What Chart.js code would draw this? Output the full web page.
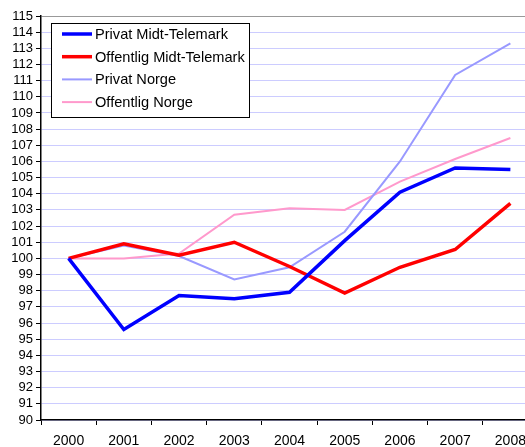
<!DOCTYPE html>
<html>
<head>
<meta charset="utf-8">
<script src="https://cdn.jsdelivr.net/npm/chart.js@4.4.0/dist/chart.umd.min.js"></script>
<style>
  html, body { margin: 0; padding: 0; background: #fff; overflow: hidden; }
  #wrap { width: 540px; height: 447px; }
</style>
</head>
<body>
<div id="wrap"><canvas id="chart" width="540" height="447"></canvas></div>
<script>
// years on the x axis
const years = ['2000', '2001', '2002', '2003', '2004', '2005', '2006', '2007', '2008'];

// index values (2000 = 100)
const privatMidt = [100, 95.6, 97.7, 97.5, 97.9, 101.1, 104.1, 105.6, 105.5];
const offentligMidt = [100, 100.9, 100.2, 101.0, 99.5, 97.85, 99.45, 100.55, 103.4];
const privatNorge = [100, 100.8, 100.15, 98.7, 99.45, 101.65, 106.0, 111.35, 113.3];
const offentligNorge = [100, 100.0, 100.3, 102.7, 103.1, 103.0, 104.75, 106.15, 107.45];

const seriesNames = ['Privat Midt-Telemark', 'Offentlig Midt-Telemark', 'Privat Norge', 'Offentlig Norge'];

const font = "'Liberation Sans', Arial, sans-serif";

// legend box drawn inside the plot, like the original
const boxLegend = {
    id: 'boxLegend',
    afterDatasetsDraw(chart) {
        const ctx = chart.ctx;
        const x = 51.5, y = 23.5, w = 198, h = 94;
        ctx.save();
        ctx.fillStyle = '#fff';
        ctx.fillRect(x, y, w, h);
        ctx.strokeStyle = '#000';
        ctx.lineWidth = 1;
        ctx.strokeRect(x, y, w, h);
        ctx.font = '14.6px ' + font;
        ctx.textBaseline = 'middle';
        chart.data.datasets.forEach((ds, i) => {
            const ly = 34 + i * 22.7;
            ctx.strokeStyle = ds.borderColor;
            ctx.lineWidth = ds.borderWidth;
            ctx.beginPath();
            ctx.moveTo(62, ly);
            ctx.lineTo(92, ly);
            ctx.stroke();
            ctx.fillStyle = '#000';
            ctx.fillText(ds.label, 95, ly + 1);
        });
        ctx.restore();
    }
};

const ctx = document.getElementById('chart').getContext('2d');
new Chart(ctx, {
    type: 'line',
    data: {
        labels: years,
        datasets: [
            { label: seriesNames[0], data: privatMidt, borderColor: '#0000ff', borderWidth: 3.5 },
            { label: seriesNames[1], data: offentligMidt, borderColor: '#ff0000', borderWidth: 3.5 },
            { label: seriesNames[2], data: privatNorge, borderColor: '#9999ff', borderWidth: 2 },
            { label: seriesNames[3], data: offentligNorge, borderColor: '#ff99cc', borderWidth: 2 }
        ]
    },
    options: {
        responsive: false,
        animation: false,
        elements: {
            point: { radius: 0 },
            line: { tension: 0, borderJoinStyle: 'miter' }
        },
        layout: { padding: { top: 16, right: 2, left: 0, bottom: 0 } },
        plugins: {
            legend: { display: false },
            tooltip: { enabled: false }
        },
        scales: {
            x: {
                offset: true,
                grid: { drawOnChartArea: false, offset: true, tickLength: 5, color: '#000' },
                border: { color: '#000', width: 1.5 },
                ticks: { color: '#000', font: { family: font, size: 14 }, padding: 8, maxRotation: 0 },
                afterFit(scale) { scale.height = 27; }
            },
            y: {
                min: 90,
                max: 115,
                grid: {
                    color: (c) => c.tick && c.tick.value === 115 ? '#999999' : '#ccccff',
                    tickColor: '#000',
                    tickLength: 5,
                    lineWidth: 1
                },
                border: { color: '#000', width: 1.5 },
                ticks: { stepSize: 1, color: '#000', font: { family: font, size: 13 }, padding: 3, autoSkip: false },
                afterFit(scale) { scale.width = 41; }
            }
        }
    },
    plugins: [boxLegend]
});
</script>
</body>
</html>
